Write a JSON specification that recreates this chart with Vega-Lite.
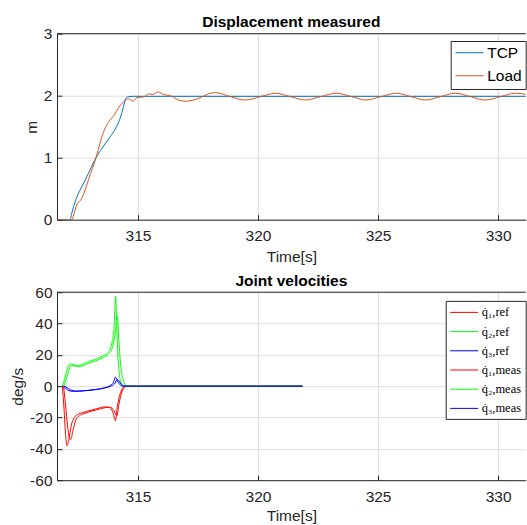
{
  "$schema": "https://vega.github.io/schema/vega-lite/v6.json",
  "background": "white",
  "padding": {"left": 10, "top": 14.7, "right": 0, "bottom": 0},
  "spacing": 7.5,
  "config": {
    "font": "Liberation Sans",
    "view": {"stroke": null},
    "axis": {
      "labelFont": "Liberation Sans", "labelFontSize": 15.5, "labelColor": "#262626",
      "titleFont": "Liberation Sans", "titleFontSize": 15.5, "titleFontWeight": "normal", "titleColor": "#262626",
      "domainColor": "#262626", "domainWidth": 1, "tickColor": "#262626", "tickSize": -5, "labelPadding": 14,
      "gridColor": "#DFDFDF", "grid": true, "titlePadding": 4, "labelOverlap": false
    },
    "axisY": {"labelPadding": 10},
    "title": {"font": "Liberation Sans", "fontSize": 15.5, "fontWeight": "bold", "color": "#000000", "offset": -4, "frame": "group"}
  },
  "datasets": {
    "disp": [
      {"t": 311.625, "v": 0, "s": "TCP"}, {"t": 312.17, "v": 0, "s": "TCP"}, {"t": 312.25, "v": 0.12, "s": "TCP"},
      {"t": 312.39, "v": 0.3, "s": "TCP"}, {"t": 312.55, "v": 0.45, "s": "TCP"}, {"t": 312.75, "v": 0.6, "s": "TCP"},
      {"t": 313.0, "v": 0.8, "s": "TCP"}, {"t": 313.25, "v": 1.0, "s": "TCP"}, {"t": 313.5, "v": 1.15, "s": "TCP"},
      {"t": 313.75, "v": 1.29, "s": "TCP"}, {"t": 314.0, "v": 1.43, "s": "TCP"}, {"t": 314.2, "v": 1.58, "s": "TCP"},
      {"t": 314.33, "v": 1.73, "s": "TCP"}, {"t": 314.43, "v": 1.88, "s": "TCP"}, {"t": 314.5, "v": 1.96, "s": "TCP"},
      {"t": 314.6, "v": 1.985, "s": "TCP"}, {"t": 314.8, "v": 1.99, "s": "TCP"}, {"t": 331.2, "v": 1.99, "s": "TCP"},
      {"t": 311.625, "v": 0, "s": "Load"}, {"t": 312.25, "v": 0, "s": "Load"}, {"t": 312.32, "v": 0.08, "s": "Load"},
      {"t": 312.46, "v": 0.25, "s": "Load"}, {"t": 312.6, "v": 0.31, "s": "Load"}, {"t": 312.7, "v": 0.38, "s": "Load"},
      {"t": 312.95, "v": 0.66, "s": "Load"}, {"t": 313.25, "v": 1.0, "s": "Load"}, {"t": 313.43, "v": 1.25, "s": "Load"},
      {"t": 313.6, "v": 1.45, "s": "Load"}, {"t": 313.78, "v": 1.58, "s": "Load"}, {"t": 313.99, "v": 1.68, "s": "Load"},
      {"t": 314.2, "v": 1.81, "s": "Load"}, {"t": 314.45, "v": 1.92, "s": "Load"}, {"t": 314.61, "v": 1.95, "s": "Load"},
      {"t": 314.79, "v": 1.91, "s": "Load"}, {"t": 314.96, "v": 1.97, "s": "Load"}, {"t": 315.24, "v": 1.98, "s": "Load"},
      {"t": 315.45, "v": 2.03, "s": "Load"}, {"t": 315.6, "v": 2.02, "s": "Load"}, {"t": 315.86, "v": 2.06, "s": "Load"},
      {"t": 316.05, "v": 2.02, "s": "Load"}, {"t": 316.35, "v": 2.0, "s": "Load"}, {"t": 316.7, "v": 1.93, "s": "Load"},
      {"t": 316.975, "v": 1.91, "s": "Load"}, {"t": 317.32, "v": 1.93, "s": "Load"}, {"t": 317.6, "v": 1.97, "s": "Load"},
      {"t": 317.95, "v": 2.03, "s": "Load"}, {"t": 318.22, "v": 2.05, "s": "Load"}, {"t": 318.85, "v": 1.985, "s": "Load"},
      {"t": 319.47, "v": 1.93, "s": "Load"}, {"t": 320.1, "v": 1.985, "s": "Load"}, {"t": 320.72, "v": 2.04, "s": "Load"},
      {"t": 321.35, "v": 1.985, "s": "Load"}, {"t": 321.97, "v": 1.93, "s": "Load"}, {"t": 322.6, "v": 1.985, "s": "Load"},
      {"t": 323.25, "v": 2.04, "s": "Load"}, {"t": 323.9, "v": 1.985, "s": "Load"}, {"t": 324.5, "v": 1.93, "s": "Load"},
      {"t": 325.12, "v": 1.985, "s": "Load"}, {"t": 325.77, "v": 2.04, "s": "Load"}, {"t": 326.37, "v": 1.985, "s": "Load"},
      {"t": 326.97, "v": 1.93, "s": "Load"}, {"t": 327.6, "v": 1.985, "s": "Load"}, {"t": 328.22, "v": 2.04, "s": "Load"},
      {"t": 328.85, "v": 1.985, "s": "Load"}, {"t": 329.47, "v": 1.93, "s": "Load"}, {"t": 330.1, "v": 1.985, "s": "Load"},
      {"t": 330.72, "v": 2.04, "s": "Load"}, {"t": 331.2, "v": 2.02, "s": "Load"}
    ],
    "vel": [
      {"t": 311.85, "v": 0, "s": "q̇₁,ref"}, {"t": 311.92, "v": -15, "s": "q̇₁,ref"}, {"t": 311.98, "v": -30, "s": "q̇₁,ref"},
      {"t": 312.04, "v": -38, "s": "q̇₁,ref"}, {"t": 312.12, "v": -34, "s": "q̇₁,ref"}, {"t": 312.22, "v": -25, "s": "q̇₁,ref"},
      {"t": 312.35, "v": -20, "s": "q̇₁,ref"}, {"t": 312.5, "v": -18, "s": "q̇₁,ref"}, {"t": 312.7, "v": -16.8, "s": "q̇₁,ref"},
      {"t": 313.0, "v": -15.5, "s": "q̇₁,ref"}, {"t": 313.3, "v": -14.3, "s": "q̇₁,ref"}, {"t": 313.6, "v": -13.2, "s": "q̇₁,ref"},
      {"t": 313.8, "v": -13.5, "s": "q̇₁,ref"}, {"t": 313.95, "v": -16.5, "s": "q̇₁,ref"}, {"t": 314.06, "v": -22, "s": "q̇₁,ref"},
      {"t": 314.12, "v": -15, "s": "q̇₁,ref"}, {"t": 314.2, "v": -8, "s": "q̇₁,ref"}, {"t": 314.3, "v": -3, "s": "q̇₁,ref"},
      {"t": 314.4, "v": -0.5, "s": "q̇₁,ref"}, {"t": 314.5, "v": 0, "s": "q̇₁,ref"}, {"t": 321.85, "v": 0, "s": "q̇₁,ref"},
      {"t": 311.85, "v": 0, "s": "q̇₂,ref"}, {"t": 311.95, "v": 5, "s": "q̇₂,ref"}, {"t": 312.05, "v": 11, "s": "q̇₂,ref"},
      {"t": 312.15, "v": 14.2, "s": "q̇₂,ref"}, {"t": 312.3, "v": 13.8, "s": "q̇₂,ref"}, {"t": 312.46, "v": 13.0, "s": "q̇₂,ref"},
      {"t": 312.6, "v": 13.5, "s": "q̇₂,ref"}, {"t": 312.8, "v": 14.8, "s": "q̇₂,ref"}, {"t": 313.0, "v": 16, "s": "q̇₂,ref"},
      {"t": 313.2, "v": 17, "s": "q̇₂,ref"}, {"t": 313.4, "v": 18.3, "s": "q̇₂,ref"}, {"t": 313.6, "v": 19.8, "s": "q̇₂,ref"},
      {"t": 313.75, "v": 21.5, "s": "q̇₂,ref"}, {"t": 313.85, "v": 24, "s": "q̇₂,ref"}, {"t": 313.93, "v": 29, "s": "q̇₂,ref"},
      {"t": 314.0, "v": 37, "s": "q̇₂,ref"}, {"t": 314.07, "v": 57.5, "s": "q̇₂,ref"}, {"t": 314.11, "v": 40, "s": "q̇₂,ref"},
      {"t": 314.16, "v": 20, "s": "q̇₂,ref"}, {"t": 314.22, "v": 8, "s": "q̇₂,ref"}, {"t": 314.3, "v": 2, "s": "q̇₂,ref"},
      {"t": 314.4, "v": 0, "s": "q̇₂,ref"}, {"t": 321.85, "v": 0, "s": "q̇₂,ref"},
      {"t": 311.85, "v": 0, "s": "q̇₃,ref"}, {"t": 311.95, "v": -1, "s": "q̇₃,ref"}, {"t": 312.05, "v": -2.2, "s": "q̇₃,ref"},
      {"t": 312.2, "v": -3.2, "s": "q̇₃,ref"}, {"t": 312.4, "v": -3.3, "s": "q̇₃,ref"}, {"t": 312.7, "v": -3, "s": "q̇₃,ref"},
      {"t": 313.0, "v": -2.6, "s": "q̇₃,ref"}, {"t": 313.3, "v": -2, "s": "q̇₃,ref"}, {"t": 313.6, "v": -1.1, "s": "q̇₃,ref"},
      {"t": 313.85, "v": 0.5, "s": "q̇₃,ref"}, {"t": 313.98, "v": 2.5, "s": "q̇₃,ref"}, {"t": 314.06, "v": 5.8, "s": "q̇₃,ref"},
      {"t": 314.14, "v": 3.5, "s": "q̇₃,ref"}, {"t": 314.22, "v": 1.5, "s": "q̇₃,ref"}, {"t": 314.32, "v": 0.2, "s": "q̇₃,ref"},
      {"t": 314.45, "v": 0, "s": "q̇₃,ref"}, {"t": 321.85, "v": 0, "s": "q̇₃,ref"},
      {"t": 311.9, "v": 0, "s": "q̇₁,meas"}, {"t": 311.98, "v": -12, "s": "q̇₁,meas"}, {"t": 312.07, "v": -26, "s": "q̇₁,meas"},
      {"t": 312.15, "v": -33.5, "s": "q̇₁,meas"}, {"t": 312.2, "v": -34, "s": "q̇₁,meas"}, {"t": 312.28, "v": -29, "s": "q̇₁,meas"},
      {"t": 312.4, "v": -22, "s": "q̇₁,meas"}, {"t": 312.55, "v": -19, "s": "q̇₁,meas"}, {"t": 312.75, "v": -17.5, "s": "q̇₁,meas"},
      {"t": 313.0, "v": -16.2, "s": "q̇₁,meas"}, {"t": 313.3, "v": -15, "s": "q̇₁,meas"}, {"t": 313.6, "v": -13.8, "s": "q̇₁,meas"},
      {"t": 313.85, "v": -13.5, "s": "q̇₁,meas"}, {"t": 314.0, "v": -15.5, "s": "q̇₁,meas"}, {"t": 314.12, "v": -19, "s": "q̇₁,meas"},
      {"t": 314.2, "v": -12, "s": "q̇₁,meas"}, {"t": 314.3, "v": -5, "s": "q̇₁,meas"}, {"t": 314.42, "v": -1, "s": "q̇₁,meas"},
      {"t": 314.55, "v": 0, "s": "q̇₁,meas"}, {"t": 321.85, "v": 0, "s": "q̇₁,meas"},
      {"t": 311.9, "v": 0, "s": "q̇₂,meas"}, {"t": 312.0, "v": 4, "s": "q̇₂,meas"}, {"t": 312.12, "v": 10, "s": "q̇₂,meas"},
      {"t": 312.22, "v": 13.3, "s": "q̇₂,meas"}, {"t": 312.35, "v": 13.0, "s": "q̇₂,meas"}, {"t": 312.5, "v": 12.4, "s": "q̇₂,meas"},
      {"t": 312.65, "v": 12.8, "s": "q̇₂,meas"}, {"t": 312.85, "v": 14, "s": "q̇₂,meas"}, {"t": 313.05, "v": 15.2, "s": "q̇₂,meas"},
      {"t": 313.25, "v": 16.3, "s": "q̇₂,meas"}, {"t": 313.45, "v": 17.5, "s": "q̇₂,meas"}, {"t": 313.65, "v": 19, "s": "q̇₂,meas"},
      {"t": 313.8, "v": 21, "s": "q̇₂,meas"}, {"t": 313.92, "v": 24, "s": "q̇₂,meas"}, {"t": 314.0, "v": 29, "s": "q̇₂,meas"},
      {"t": 314.07, "v": 36, "s": "q̇₂,meas"}, {"t": 314.14, "v": 45, "s": "q̇₂,meas"}, {"t": 314.2, "v": 30, "s": "q̇₂,meas"},
      {"t": 314.27, "v": 15, "s": "q̇₂,meas"}, {"t": 314.35, "v": 6, "s": "q̇₂,meas"}, {"t": 314.45, "v": 1.5, "s": "q̇₂,meas"},
      {"t": 314.55, "v": 0, "s": "q̇₂,meas"}, {"t": 321.85, "v": 0, "s": "q̇₂,meas"},
      {"t": 311.9, "v": 0, "s": "q̇₃,meas"}, {"t": 312.0, "v": -0.5, "s": "q̇₃,meas"}, {"t": 312.1, "v": -1.5, "s": "q̇₃,meas"},
      {"t": 312.25, "v": -2.7, "s": "q̇₃,meas"}, {"t": 312.45, "v": -3.1, "s": "q̇₃,meas"}, {"t": 312.75, "v": -2.9, "s": "q̇₃,meas"},
      {"t": 313.05, "v": -2.5, "s": "q̇₃,meas"}, {"t": 313.35, "v": -1.9, "s": "q̇₃,meas"}, {"t": 313.65, "v": -1.0, "s": "q̇₃,meas"},
      {"t": 313.9, "v": 0.3, "s": "q̇₃,meas"}, {"t": 314.05, "v": 2, "s": "q̇₃,meas"}, {"t": 314.13, "v": 4.2, "s": "q̇₃,meas"},
      {"t": 314.2, "v": 3.5, "s": "q̇₃,meas"}, {"t": 314.3, "v": 1.2, "s": "q̇₃,meas"}, {"t": 314.42, "v": 0.2, "s": "q̇₃,meas"},
      {"t": 314.55, "v": 0, "s": "q̇₃,meas"}, {"t": 321.85, "v": 0, "s": "q̇₃,meas"}
    ],
    "topedge": [{"y": 3}],
    "botedge": [{"y": 60}]
  },
  "resolve": {"scale": {"color": "independent", "x": "independent", "y": "independent"}, "legend": {"color": "independent"}},
  "vconcat": [
    {
      "width": 468.7,
      "height": 186,
      "title": {"text": "Displacement measured"},
      "layer": [
        {
          "data": {"name": "disp"},
          "mark": {"type": "line", "interpolate": "monotone", "strokeWidth": 1, "clip": true},
          "encoding": {
            "x": {"field": "t", "type": "quantitative", "scale": {"domain": [311.625, 331.15], "nice": false, "zero": false},
                  "axis": {"values": [315, 320, 325, 330], "format": "d", "title": "Time[s]", "titlePadding": 5.5}},
            "y": {"field": "v", "type": "quantitative", "scale": {"domain": [0, 3], "nice": false},
                  "axis": {"values": [0, 1, 2, 3], "labelExpr": "'' + datum.value", "title": "m", "labelOverlap": false}},
            "color": {"field": "s", "type": "nominal", "sort": null,
                      "scale": {"domain": ["TCP", "Load"], "range": ["#0072BD", "#D95319"]},
                      "legend": {"title": null, "orient": "none", "legendX": 393.7, "legendY": 7.3,
                                 "strokeColor": "#262626", "fillColor": "white", "padding": 4,
                                 "symbolType": "M-1,0H3", "symbolSize": 196, "symbolStrokeWidth": 1,
                                 "labelFont": "Liberation Sans", "labelFontSize": 15.5, "labelColor": "#000000",
                                 "labelOffset": 17, "rowPadding": 6}}
          }
        },
        {
          "data": {"name": "topedge"},
          "mark": {"type": "rule", "color": "#262626", "strokeWidth": 1},
          "encoding": {"y": {"field": "y", "type": "quantitative",
                             "axis": {"values": [0, 1, 2, 3], "labelExpr": "'' + datum.value", "title": "m", "labelOverlap": false}}}
        }
      ]
    },
    {
      "width": 468.7,
      "height": 188,
      "title": {"text": "Joint velocities"},
      "layer": [
        {
          "data": {"name": "vel"},
          "mark": {"type": "line", "interpolate": "monotone", "strokeWidth": 1, "clip": true},
          "encoding": {
            "x": {"field": "t", "type": "quantitative", "scale": {"domain": [311.625, 331.15], "nice": false, "zero": false},
                  "axis": {"values": [315, 320, 325, 330], "format": "d", "title": "Time[s]", "titlePadding": 3.5}},
            "y": {"field": "v", "type": "quantitative", "scale": {"domain": [-60, 60], "nice": false},
                  "axis": {"values": [-60, -40, -20, 0, 20, 40, 60], "labelExpr": "'' + datum.value", "title": "deg/s", "labelOverlap": false}},
            "color": {"field": "s", "type": "nominal", "sort": null,
                      "scale": {"domain": ["q̇₁,ref", "q̇₂,ref", "q̇₃,ref", "q̇₁,meas", "q̇₂,meas", "q̇₃,meas"],
                                "range": ["#FF0000", "#00FF00", "#0000FF", "#FF0000", "#00FF00", "#0000FF"]},
                      "legend": {"title": null, "orient": "none", "legendX": 388.7, "legendY": 8.7,
                                 "strokeColor": "#262626", "fillColor": "white", "padding": 4,
                                 "symbolType": "M-1,0H3", "symbolSize": 196, "symbolStrokeWidth": 1,
                                 "labelFont": "Liberation Serif", "labelFontSize": 12.5, "labelColor": "#000000",
                                 "labelOffset": 17, "rowPadding": 5.2}}
          }
        },
        {
          "data": {"name": "botedge"},
          "mark": {"type": "rule", "color": "#262626", "strokeWidth": 1},
          "encoding": {"y": {"field": "y", "type": "quantitative",
                             "axis": {"values": [-60, -40, -20, 0, 20, 40, 60], "labelExpr": "'' + datum.value", "title": "deg/s", "labelOverlap": false}}}
        }
      ]
    }
  ]
}
